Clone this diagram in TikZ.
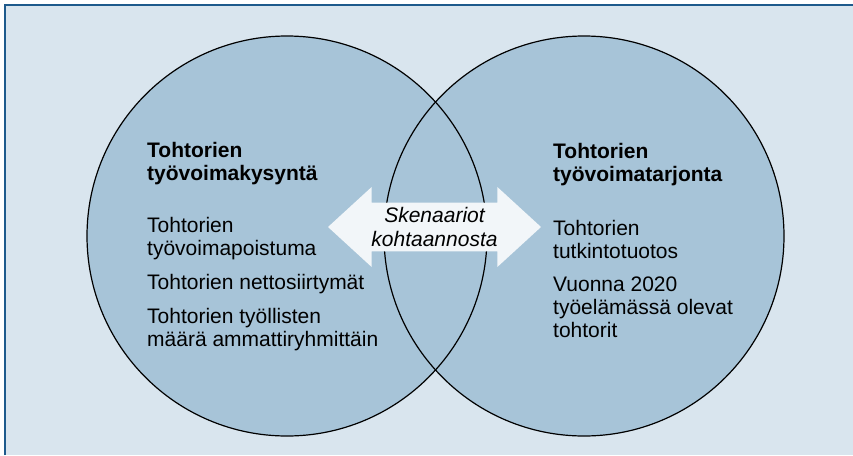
\documentclass[tikz,border=0pt]{standalone}
\usepackage{fontspec}
\setmainfont{Liberation Sans}
\usepackage{tikz}
\usetikzlibrary{shapes.arrows}

\definecolor{bgblue}{HTML}{D9E5EE}
\definecolor{circlefill}{HTML}{A7C4D8}
\definecolor{framecol}{HTML}{1E5A8C}
\definecolor{arrowfill}{HTML}{F2F6F9}

\tikzset{
    bubble/.style={circle, fill=circlefill, minimum size=400pt, inner sep=0pt},
    ring/.style={circle, draw=black, line width=1.2pt, minimum size=400pt, inner sep=0pt},
    heading/.style={anchor=north west, inner sep=0pt, align=left, font=\bfseries\fontsize{21}{23}\selectfont},
    item/.style={anchor=north west, inner sep=0pt, align=left, font=\fontsize{21}{23}\selectfont},
    scenario/.style={double arrow, fill=arrowfill, minimum height=213pt, double arrow head extend=15.5pt,
        double arrow tip angle=85, inner xsep=0pt, inner ysep=4.5pt, align=center,
        font=\itshape\fontsize{21}{24}\selectfont}
}

\begin{document}
\begin{tikzpicture}[x=1pt, y=-1pt]
        \useasboundingbox (0,0) rectangle (853,455);

        % Sfondo
        \fill[bgblue] (5,5) rectangle (853,455);
        \draw[framecol, line width=1.5pt] (5,455) -- (5,5) -- (853,5);

        % Cerchi
        \node[bubble] (dem) at (287,236) {};
        \node[bubble] (sup) at (584,236) {};
        \node[ring] (demline) at (dem.center) {};
        \node[ring] (supline) at (sup.center) {};

        % Testi a sinistra
        \node[heading] (demtitle) at (147,142) {Tohtorien\\työvoimakysyntä};
        \node[item] (demone) at (147,217) {Tohtorien\\työvoimapoistuma};
        \node[item] (demtwo) at (147,274) {Tohtorien nettosiirtymät};
        \node[item] (demthree) at (147,308) {Tohtorien työllisten\\määrä ammattiryhmittäin};

        % Testi a destra
        \node[heading] (suptitle) at (553,143) {Tohtorien\\työvoimatarjonta};
        \node[item] (supone) at (553,220) {Tohtorien\\tutkintotuotos};
        \node[item] (suptwo) at (553,277) {Vuonna 2020\\työelämässä olevat\\tohtorit};

        % Freccia
        \node[scenario] (scen) at (434.5,227) {Skenaariot\\kohtaannosta};

    \end{tikzpicture}
\end{document}
